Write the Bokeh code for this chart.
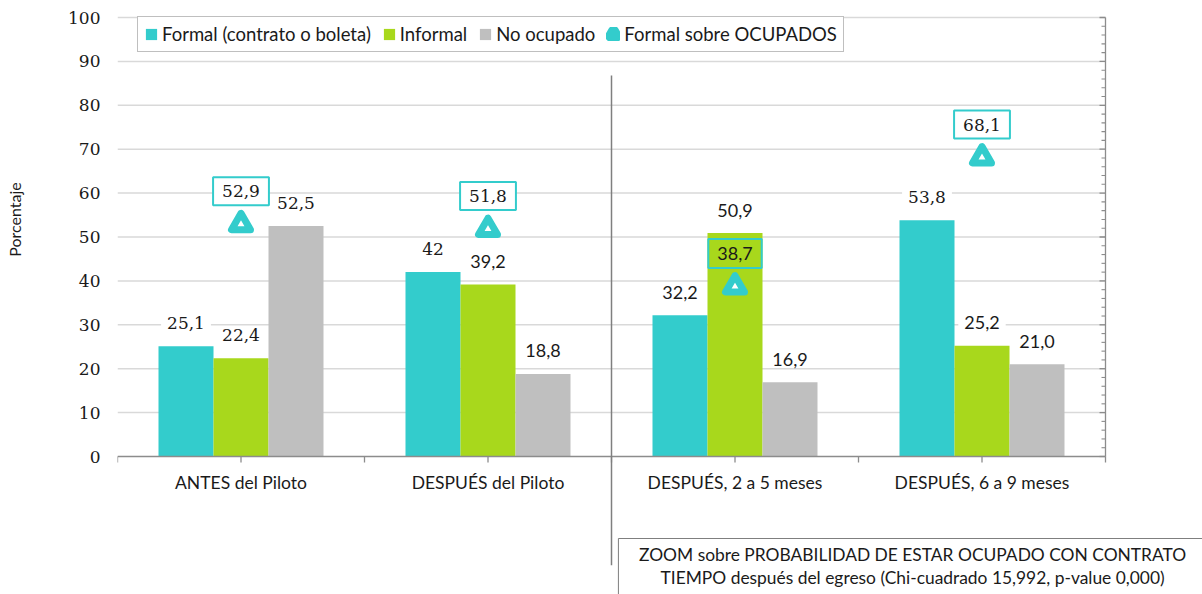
from bokeh.plotting import figure
from bokeh.models import ColumnDataSource, FixedTicker, Legend, LegendItem, Range1d
from bokeh.core.properties import value
from bokeh.embed import file_html
from bokeh.resources import INLINE

# ---------------- data ----------------
categories = ["ANTES del Piloto", "DESPUÉS del Piloto",
              "DESPUÉS, 2 a 5 meses", "DESPUÉS, 6 a 9 meses"]
series_names = ["Formal (contrato o boleta)", "Informal", "No ocupado"]
formal = [25.1, 42.0, 32.2, 53.8]
informal = [22.4, 39.2, 50.9, 25.2]
no_ocupado = [52.5, 18.8, 16.9, 21.0]
formal_labels = ["25,1", "42", "32,2", "53,8"]
informal_labels = ["22,4", "39,2", "50,9", "25,2"]
no_ocupado_labels = ["52,5", "18,8", "16,9", "21,0"]
fso_name = "Formal sobre OCUPADOS"
formal_sobre_ocupados = [52.9, 51.8, 38.7, 68.1]
fso_labels = ["52,9", "51,8", "38,7", "68,1"]
y_ticks = list(range(0, 101, 10))
y_label = "Porcentaje"
note_lines = ["ZOOM sobre PROBABILIDAD DE ESTAR OCUPADO CON CONTRATO",
              "TIEMPO después del egreso (Chi-cuadrado 15,992, p-value 0,000)"]

# ---------------- styles ----------------
CYAN, GREEN, GRAY = "#33CCCC", "#A8D81C", "#BFBFBF"
colors = [CYAN, GREEN, GRAY]
SERIF, SANS = "DejaVu Serif", "Lato"
formal_fonts = [SERIF, SERIF, SANS, SERIF]
informal_fonts = [SERIF, SANS, SANS, SANS]
no_ocupado_fonts = [SERIF, SANS, SANS, SANS]
fso_fonts = [SERIF, SERIF, SANS, SERIF]
fso_bg_alpha = [1, 1, 0, 1]
AXIS_GRAY = "#8c8c8c"
TEXT = "#1a1a1a"
EM_SPACE = "\u2003"

W, H = 1202, 594
FRAME_LEFT = 117
PX_X = 247.0          # pixels per category group
PX_Y = 4.39           # pixels per percentage point
TOP_100 = 17          # pixel row of the 100 gridline
ZERO_ROW = 456        # pixel row of the 0 baseline
n = len(categories)
x_end = (W - FRAME_LEFT) / PX_X
y_end = 100 + TOP_100 / PX_Y
y_start = -(H - ZERO_ROW) / PX_Y

p = figure(width=W, height=H, x_range=Range1d(0, x_end), y_range=Range1d(y_start, y_end),
           output_backend="svg", toolbar_location=None, x_axis_location=None,
           min_border_left=FRAME_LEFT, min_border_right=0, min_border_top=0, min_border_bottom=0)
p.outline_line_color = None
p.xgrid.visible = False
p.ygrid.visible = False
p.background_fill_color = "white"

ax = p.yaxis[0]
ax.ticker = FixedTicker(ticks=y_ticks, minor_ticks=[])
ax.axis_line_color = None
ax.major_tick_line_color = None
ax.minor_tick_line_color = None
ax.major_tick_out = 0
ax.major_tick_in = 0
ax.minor_tick_out = 0
ax.major_label_standoff = 17
ax.major_label_text_font = SERIF
ax.major_label_text_font_size = "17px"
ax.major_label_text_color = TEXT
# leading em spaces lift the visible title from the frame centre to where the original has it
ax.axis_label = EM_SPACE * 13 + y_label
ax.axis_label_text_font = SANS
ax.axis_label_text_font_style = "normal"
ax.axis_label_text_font_size = "16px"
ax.axis_label_text_color = TEXT
ax.axis_label_standoff = 41

# gridlines
grid_y = [t for t in y_ticks if t > 0]
p.segment(x0=0, x1=n, y0=grid_y, y1=grid_y, line_color="#d9d9d9", line_width=1.5)

# bars
bw = 55 / PX_X
centers = [i + 0.5 for i in range(n)]
offsets = [-bw, 0.0, bw]
bar_renderers = []
all_vals = [formal, informal, no_ocupado]
all_labels = [formal_labels, informal_labels, no_ocupado_labels]
all_fonts = [formal_fonts, informal_fonts, no_ocupado_fonts]
for vals, col, off in zip(all_vals, colors, offsets):
    xs = [c + off for c in centers]
    r = p.vbar(x=xs, top=vals, bottom=0, width=bw, fill_color=col, line_color=None)
    bar_renderers.append(r)

# bar value labels
for vals, labs, fonts, off in zip(all_vals, all_labels, all_fonts, offsets):
    src = ColumnDataSource(dict(x=[c + off for c in centers], y=vals, t=labs, f=fonts,
                                s=["17px" if f == SERIF else "18px" for f in fonts]))
    p.text(x="x", y="y", text="t", source=src, text_font="f", text_font_size="s",
           text_align="center", text_baseline="alphabetic", y_offset=-23, text_color=TEXT,
           background_fill_color="white", padding=(6, 1))

# x axis line, ticks every half group
p.line(x=[0, n], y=[0, 0], line_color=AXIS_GRAY, line_width=1.3)
xt = [i * 0.5 for i in range(2 * n + 1)]
p.segment(x0=xt, x1=xt, y0=0, y1=-6 / PX_Y, line_color=AXIS_GRAY, line_width=1.3)
p.text(x=centers, y=0, text=categories, y_offset=26, text_align="center", text_baseline="middle",
       text_font=value(SANS), text_font_size="17.5px", text_color=TEXT)

# right axis with inward ticks
p.line(x=[n, n], y=[0, 100], line_color=AXIS_GRAY, line_width=1.3)
p.segment(x0=n, x1=n - 6 / PX_X, y0=y_ticks, y1=y_ticks, line_color=AXIS_GRAY, line_width=1.3)
minor = [m for m in range(0, 101, 2) if m % 10]
p.segment(x0=n, x1=n - 4 / PX_X, y0=minor, y1=minor, line_color=AXIS_GRAY, line_width=1.1)

# separator line and note box (cut by the picture's edges)
p.line(x=[2, 2], y=[86.8, -24.8], line_color="#7f7f7f", line_width=1.5)
box_left, box_top = 2.028, -18.68
p.quad(left=[box_left], right=[x_end + 1], top=[box_top], bottom=[y_start - 5],
       fill_color="white", line_color=None)
p.line(x=[box_left, x_end + 1], y=[box_top, box_top], line_color="#7f7f7f", line_width=1)
p.line(x=[box_left, box_left], y=[box_top, y_start - 5], line_color="#7f7f7f", line_width=1)
p.text(x=[3.219, 3.219], y=[-22.3, -27.5], text=note_lines, text_align="center",
       text_baseline="middle", text_font=value(SANS), text_font_size="17.4px", text_color=TEXT)

# triangles (formal sobre ocupados)
p.scatter(x=centers, y=formal_sobre_ocupados, marker="triangle", size=19,
          fill_color="white", line_color=CYAN, line_width=7, line_join="round")
fsrc = ColumnDataSource(dict(x=centers, y=formal_sobre_ocupados, t=fso_labels,
                             f=fso_fonts, a=fso_bg_alpha,
                             s=["18px" if f == SANS else "17px" for f in fso_fonts]))
p.text(x="x", y="y", text="t", source=fsrc, text_font="f", text_font_size="s",
       text_align="center", text_baseline="middle", y_offset=-33, text_color=TEXT,
       background_fill_color="white", background_fill_alpha="a",
       border_line_color=CYAN, border_line_width=2, padding=(9, 8))

# legend proxy for the triangle (off-screen point)
tri_leg = p.scatter(x=[-10], y=[-100], marker="triangle", size=6, fill_color=CYAN,
                    line_color=CYAN, line_width=11, line_join="round")

items = [LegendItem(label=nm, renderers=[r]) for nm, r in zip(series_names, bar_renderers)]
items.append(LegendItem(label=fso_name, renderers=[tri_leg]))
leg = Legend(items=items, orientation="horizontal", location=(20, H - 52),
             glyph_width=14, glyph_height=14, label_standoff=4, spacing=11, padding=6,
             label_height=20, label_text_font=SANS, label_text_font_size="18.5px",
             label_text_color=TEXT, border_line_color="#808080", border_line_width=1,
             background_fill_alpha=1, margin=0)
p.add_layout(leg, "center")

open("out.html", "w").write(file_html(p, INLINE))
